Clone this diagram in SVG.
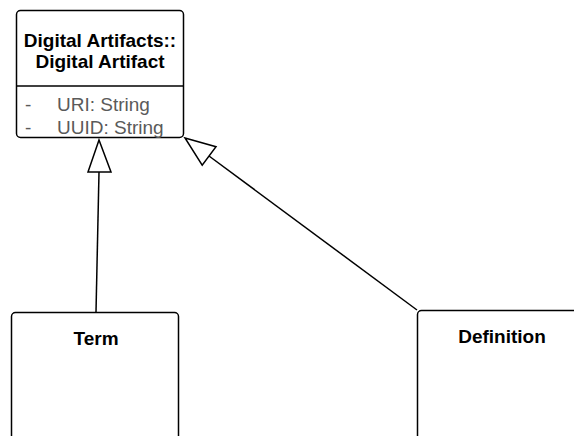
<svg xmlns="http://www.w3.org/2000/svg" width="574" height="436" viewBox="0 0 574 436">
  <style>
    .box { fill: #ffffff; stroke: #000000; stroke-width: 1.5; }
    .title { font-family: "Liberation Sans", Arial, sans-serif; font-weight: bold; font-size: 19px; fill: #000000; text-anchor: middle; }
    .attr { font-family: "Liberation Sans", Arial, sans-serif; font-size: 19px; fill: #5a5a5a; }
    .edge { fill: none; stroke: #000000; stroke-width: 1.5; }
    .head { fill: #ffffff; stroke: #000000; stroke-width: 1.5; stroke-linejoin: miter; }
  </style>
  <rect width="574" height="436" fill="#ffffff"/>

  <g id="connectors">
    <!-- Term generalizes Digital Artifact -->
    <line class="edge" x1="96" y1="312" x2="99" y2="172"/>
    <polygon class="head" points="99,140 88,172 111,172"/>
    <!-- Definition generalizes Digital Artifact -->
    <line class="edge" x1="417" y1="310" x2="209" y2="156"/>
    <polygon class="head" points="185,138 216,146.7 202.2,165.1"/>
  </g>

  <g id="digital-artifact">
    <rect class="box" x="16.5" y="10.5" width="167" height="127" rx="4"/>
    <line x1="16.5" y1="86" x2="183.5" y2="86" stroke="#000000" stroke-width="1.5"/>
    <text class="title" x="100" y="47">Digital Artifacts::</text>
    <text class="title" x="100" y="68">Digital Artifact</text>
    <text class="attr" x="25" y="111">-</text>
    <text class="attr" x="57" y="111">URI: String</text>
    <text class="attr" x="25" y="134">-</text>
    <text class="attr" x="57" y="134">UUID: String</text>
  </g>

  <g id="term">
    <rect class="box" x="11.5" y="312.5" width="167" height="140" rx="4"/>
    <text class="title" x="96" y="345">Term</text>
  </g>

  <g id="definition">
    <rect class="box" x="417.5" y="310.5" width="180" height="140" rx="4"/>
    <text class="title" x="502" y="343">Definition</text>
  </g>
</svg>
